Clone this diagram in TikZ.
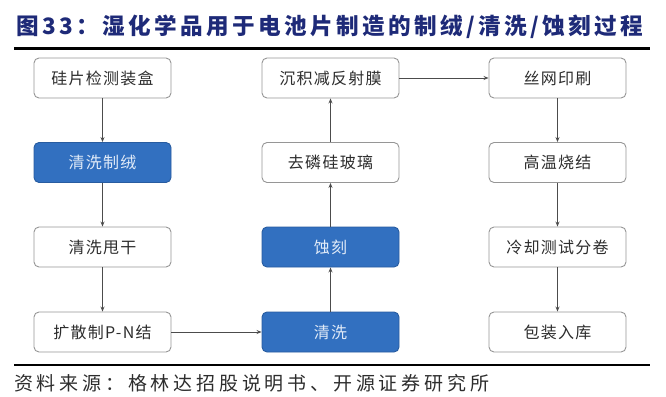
\documentclass[tikz,border=0pt]{standalone}
\usepackage{fontspec}
\newfontfamily\cjk{Noto Sans CJK SC}
\newfontfamily\cjkt[LetterSpace=15]{Noto Sans CJK SC}
\newfontfamily\cjks[LetterSpace=20]{Noto Sans CJK SC}
\newfontfamily\cjkb[LetterSpace=8]{Noto Sans CJK SC}
\usetikzlibrary{arrows.meta}
\definecolor{titleblue}{RGB}{30,42,120}
\definecolor{boxblue}{RGB}{50,112,192}
\definecolor{boxblueedge}{RGB}{40,92,160}
\definecolor{lighttext}{RGB}{225,235,248}
\definecolor{darktext}{RGB}{45,45,45}
\definecolor{edgegray}{RGB}{150,150,150}
\tikzset{
  stepbox/.style={draw=edgegray, line width=0.9pt, rounded corners=5pt, fill=white,
    minimum width=137pt, minimum height=40pt, inner sep=0pt, text=darktext,
    font=\cjkb\fontsize{16}{18}\selectfont},
  bluebox/.style={stepbox, draw=boxblueedge, fill=boxblue, text=lighttext},
  flow/.style={draw=darktext!85, line width=0.8pt, -{Stealth[length=5pt,width=4pt]}},
  rulebar/.style={line width=3pt, black}
}
\begin{document}
\begin{tikzpicture}[x=1pt,y=-1pt]
\useasboundingbox (0,0) rectangle (666,396);
\node[anchor=west, inner sep=0pt, text=titleblue, font=\cjkt\bfseries\fontsize{22.6}{24}\selectfont] (title) at (16,27) {图33：湿化学品用于电池片制造的制绒/清洗/蚀刻过程};
\coordinate (r1a) at (14,49); \coordinate (r1b) at (650,49);
\draw[rulebar] (r1a) -- (r1b);
\coordinate (r2a) at (14,365); \coordinate (r2b) at (650,365);
\draw[rulebar, line width=2.6pt] (r2a) -- (r2b);
% column 1
\node[stepbox] (a1) at (102.5,78) {硅片检测装盒};
\node[bluebox] (a2) at (102.5,162.5) {清洗制绒};
\node[stepbox] (a3) at (102.5,247) {清洗甩干};
\node[stepbox] (a4) at (102.5,332) {扩散制P-N结};
% column 2
\node[stepbox] (b1) at (330.5,78) {沉积减反射膜};
\node[stepbox] (b2) at (330.5,162.5) {去磷硅玻璃};
\node[bluebox] (b3) at (330.5,247) {蚀刻};
\node[bluebox] (b4) at (330.5,332) {清洗};
% column 3
\node[stepbox] (c1) at (557.5,78) {丝网印刷};
\node[stepbox] (c2) at (557.5,162.5) {高温烧结};
\node[stepbox] (c3) at (557.5,247) {冷却测试分卷};
\node[stepbox] (c4) at (557.5,332) {包装入库};
% arrows
\draw[flow] (a1) -- (a2);
\draw[flow] (a2) -- (a3);
\draw[flow] (a3) -- (a4);
\draw[flow] (a4) -- (b4);
\draw[flow] (b4) -- (b3);
\draw[flow] (b3) -- (b2);
\draw[flow] (b2) -- (b1);
\draw[flow] (b1) -- (c1);
\draw[flow] (c1) -- (c2);
\draw[flow] (c2) -- (c3);
\draw[flow] (c3) -- (c4);
\node[anchor=west, inner sep=0pt, text=darktext, font=\cjks\fontsize{19}{21}\selectfont] (src) at (14,383) {资料来源：格林达招股说明书、开源证券研究所};
\end{tikzpicture}
\end{document}
